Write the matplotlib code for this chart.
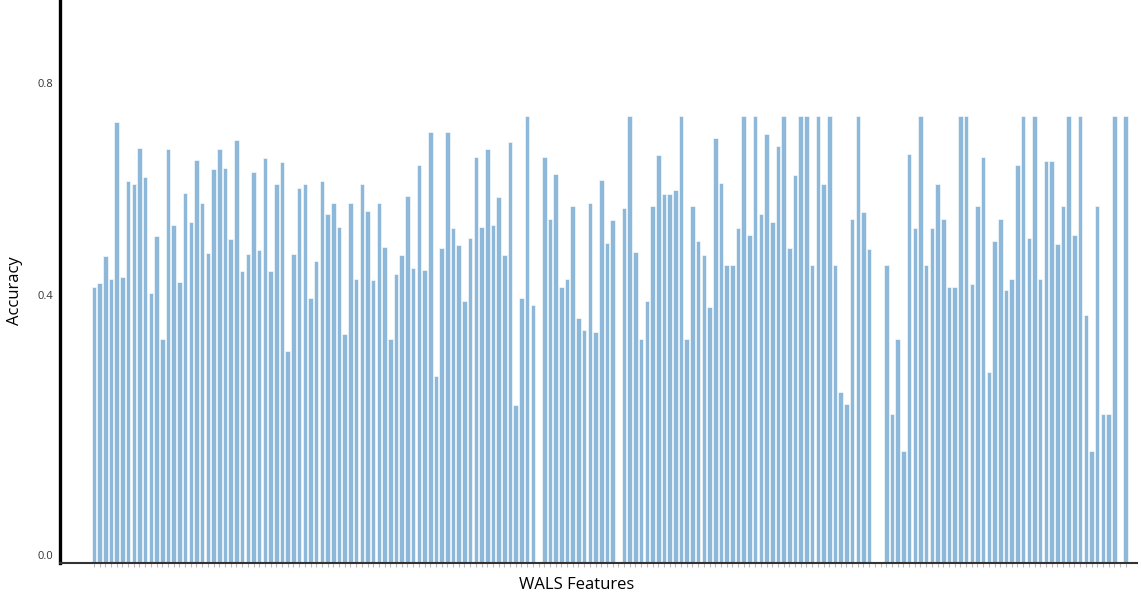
import numpy as np
import matplotlib
matplotlib.use("Agg")
import matplotlib.pyplot as plt

plt.rcParams["font.family"] = ["Open Sans", "DejaVu Sans"]

# accuracy per WALS feature (0 = no bar for that feature)
accuracy = [
    0.462, 0.470, 0.514, 0.477, 0.740, 0.479, 0.640, 0.635, 0.696, 0.647,
    0.453, 0.548, 0.375, 0.694, 0.567, 0.472, 0.620, 0.572, 0.676, 0.604,
    0.519, 0.660, 0.694, 0.662, 0.543, 0.710, 0.489, 0.518, 0.655, 0.525,
    0.679, 0.489, 0.635, 0.672, 0.355, 0.518, 0.628, 0.635, 0.445, 0.506,
    0.640, 0.585, 0.604, 0.563, 0.384, 0.604, 0.477, 0.635, 0.591, 0.474,
    0.604, 0.530, 0.375, 0.485, 0.516, 0.616, 0.494, 0.667, 0.491, 0.723,
    0.314, 0.528, 0.723, 0.562, 0.533, 0.440, 0.545, 0.681, 0.564, 0.694,
    0.567, 0.613, 0.516, 0.706, 0.265, 0.445, 0.750, 0.433, 0.0, 0.681,
    0.577, 0.652, 0.462, 0.477, 0.599, 0.411, 0.390, 0.604, 0.387, 0.642,
    0.536, 0.575, 0.0, 0.596, 0.750, 0.521, 0.375, 0.440, 0.599, 0.684,
    0.618, 0.618, 0.625, 0.750, 0.375, 0.599, 0.540, 0.516, 0.429, 0.713,
    0.638, 0.499, 0.499, 0.562, 0.750, 0.550, 0.750, 0.586, 0.720, 0.572,
    0.699, 0.750, 0.528, 0.650, 0.750, 0.750, 0.499, 0.750, 0.635, 0.750,
    0.499, 0.287, 0.267, 0.577, 0.750, 0.589, 0.526, 0.0, 0.0, 0.499,
    0.250, 0.375, 0.188, 0.686, 0.562, 0.750, 0.499, 0.562, 0.635, 0.577,
    0.462, 0.462, 0.750, 0.750, 0.467, 0.599, 0.681, 0.321, 0.540, 0.577,
    0.458, 0.477, 0.667, 0.750, 0.545, 0.750, 0.477, 0.674, 0.674, 0.535,
    0.599, 0.750, 0.550, 0.750, 0.416, 0.188, 0.599, 0.250, 0.250, 0.750,
    0.0, 0.750,
]
ytick_vals = [0.013, 0.449, 0.805]
ytick_labels = ["0.0", "0.4", "0.8"]

x = np.arange(len(accuracy))

fig = plt.figure(figsize=(11.41, 6.01), dpi=100)
ax = fig.add_axes([0.0526, 0.0632, 0.944, 0.9368])

ax.bar(x, accuracy, width=0.8, color="#8db8da", edgecolor="white", linewidth=0.4)

ax.set_xlim(-5.94, 183.0)
ax.set_ylim(0, 0.944)

ax.set_xticks(x)
ax.set_xticklabels([])
ax.tick_params(axis="x", length=3, width=0.8, color="#bbbbbb", direction="out")
ax.set_yticks(ytick_vals)
ax.set_yticklabels(ytick_labels, fontsize=8, color="#333333")
ax.tick_params(axis="y", length=0, pad=5)

for side in ["top", "right"]:
    ax.spines[side].set_visible(False)
ax.spines["left"].set_linewidth(2.4)
ax.spines["left"].set_color("black")
ax.spines["bottom"].set_linewidth(1.5)
ax.spines["bottom"].set_color("#333333")

ax.set_ylabel("Accuracy", fontsize=12)
ax.yaxis.set_label_coords(-0.0345, 0.483)
ax.set_xlabel("WALS Features", fontsize=12)
ax.xaxis.set_label_coords(0.48, -0.024)

fig.savefig("out.png", dpi=100)
